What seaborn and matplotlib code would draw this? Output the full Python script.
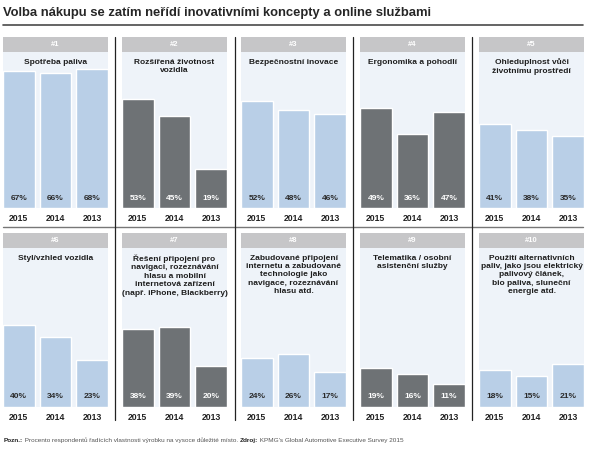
import pandas as pd
import matplotlib
matplotlib.use("Agg")
import matplotlib.pyplot as plt
from matplotlib.patches import Rectangle
import seaborn as sns

# data
ranks = ["#1", "#2", "#3", "#4", "#5", "#6", "#7", "#8", "#9", "#10"]
categories = [
    "Spotřeba paliva",
    "Rozšířená životnost\nvozidla",
    "Bezpečnostní inovace",
    "Ergonomika a pohodlí",
    "Ohleduplnost vůči\nživotnímu prostředí",
    "Styl/vzhled vozidla",
    "Řešení připojení pro\nnavigaci, rozeznávání\nhlasu a mobilní\ninternetová zařízení\n(např. iPhone, Blackberry)",
    "Zabudované připojení\ninternetu a zabudované\ntechnologie jako\nnavigace, rozeznávání\nhlasu atd.",
    "Telematika / osobní\nasistenční služby",
    "Použití alternativních\npaliv, jako jsou elektrický\npalivový článek,\nbio paliva, sluneční\nenergie atd.",
]
years = ["2015", "2014", "2013"]
values_2015 = [67, 53, 52, 49, 41, 40, 38, 24, 19, 18]
values_2014 = [66, 45, 48, 36, 38, 34, 39, 26, 16, 15]
values_2013 = [68, 19, 46, 47, 35, 23, 20, 17, 11, 21]

title = "Volba nákupu se zatím neřídí inovativními koncepty a online službami"
note_parts = [
    ("Pozn.:", "bold", "#222222"),
    (" Procento respondentů řadících vlastnosti výrobku na vysoce důležité místo. ", "normal", "#555555"),
    ("Zdroj:", "bold", "#222222"),
    (" KPMG's Global Automotive Executive Survey 2015", "normal", "#555555"),
]

rows = []
for i, rank in enumerate(ranks):
    for y, vals in zip(years, [values_2015, values_2014, values_2013]):
        rows.append({"rank": rank, "year": y, "value": vals[i]})
df = pd.DataFrame(rows)

sns.set_theme(style="white")
plt.rcParams["font.family"] = ["Liberation Sans", "DejaVu Sans"]

W, H = 589, 450
fig = plt.figure(figsize=(W / 100, H / 100), dpi=100)
fig.patch.set_facecolor("white")


def fig_rect(x, y, w, h):
    return [x / W, 1 - (y + h) / H, w / W, h / H]


light = "#b9cfe7"
dark = "#6e7275"
bg = "#eef3f9"
head_col = "#c6c6c8"
panel_x = [3, 122, 241, 360, 479]
panel_w = 105
row_geo = [dict(head=37, top=52, bottom=208), dict(head=233, top=248, bottom=407)]
px_per_pct = 2.05

for i, rank in enumerate(ranks):
    r = row_geo[i // 5]
    x0 = panel_x[i % 5]
    h = r["bottom"] - r["top"]
    ax = fig.add_axes(fig_rect(x0, r["top"], panel_w, h))
    ax.set_facecolor(bg)
    sub = df[df["rank"] == rank]
    is_light = (i % 5) % 2 == 0
    sns.barplot(data=sub, x="year", y="value", order=years, color=light if is_light else dark,
                saturation=1, width=0.865, errorbar=None, ax=ax)
    ax.set_xlim(-0.4325, 2.4325)
    ax.set_ylim(0, h / px_per_pct)
    for p, v in zip(ax.patches, sub["value"]):
        ax.text(p.get_x() + p.get_width() / 2, 10 / px_per_pct, f"{v}%",
                ha="center", va="center", fontsize=6, fontweight="bold",
                color="#2a2a2a" if is_light else "white")
    ax.set_xlabel("")
    ax.set_ylabel("")
    ax.set_yticks([])
    ax.tick_params(axis="x", length=0, pad=4.5, labelsize=6.2)
    for lbl in ax.get_xticklabels():
        lbl.set_fontweight("bold")
        lbl.set_color("#222222")
    for s in ax.spines.values():
        s.set_visible(False)

# overlay in pixel coordinates for titles, headers and rules
ov = fig.add_axes([0, 0, 1, 1])
ov.set_xlim(0, W)
ov.set_ylim(H, 0)
ov.axis("off")

ov.text(3, 13, title, fontsize=9.4, fontweight="bold", va="center", ha="left", color="#262626")
ov.plot([3, 583], [24.5, 24.5], color="#4a4a4a", lw=1.2)

for i, rank in enumerate(ranks):
    r = row_geo[i // 5]
    x0 = panel_x[i % 5]
    ov.add_patch(Rectangle((x0, r["head"]), panel_w, r["top"] - r["head"], fc=head_col, ec="none"))
    ov.text(x0 + panel_w / 2, (r["head"] + r["top"]) / 2, rank, ha="center", va="center",
            fontsize=5.5, fontweight="bold", color="white")
    ov.text(x0 + panel_w / 2, r["top"] + 6.5, categories[i], ha="center", va="top",
            fontsize=6, fontweight="bold", color="#1e1e1e", linespacing=1.28)

ov.plot([3, 583], [227, 227], color="#777777", lw=1)
for xs in [115, 234.5, 353, 471.5]:
    ov.plot([xs, xs], [37, 420], color="#222222", lw=0.9)

# footnote pieces laid out one after another on a common baseline
renderer = fig.canvas.get_renderer()
x = 4
for txt, wt, col in note_parts:
    t = ov.text(x, 442, txt, fontsize=4.6, fontweight=wt, color=col, va="baseline", ha="left")
    x += t.get_window_extent(renderer).width

fig.savefig("out.png", dpi=100, facecolor="white")
